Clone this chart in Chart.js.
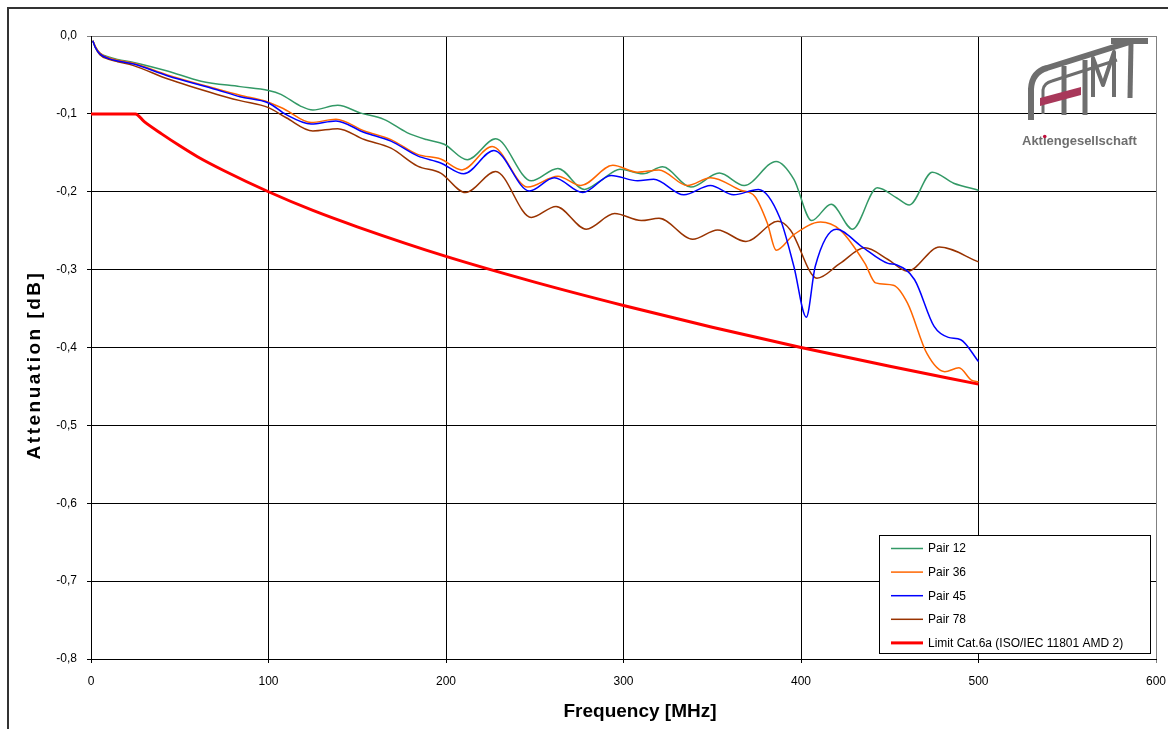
<!DOCTYPE html>
<html>
<head>
<meta charset="utf-8">
<title>Attenuation</title>
<script src="https://cdn.jsdelivr.net/npm/chart.js@4/dist/chart.umd.min.js"></script>
<style>
  html, body { margin: 0; padding: 0; background: #fff; }
  canvas { display: block; }
</style>
</head>
<body>
<canvas id="attChart" width="1168" height="729"></canvas>
<script>
// measured attenuation per pair, frequency in MHz, attenuation in dB
const pair12Freq = [1, 2.5, 5, 10, 15, 24, 43, 62, 84, 100, 107, 118, 125, 139, 152, 165, 178, 189, 199, 212, 228,
  248, 263, 278, 287, 298, 311, 322, 338, 354, 368, 386, 396, 406, 417, 429, 443, 454, 461, 474, 486, 500];
const pair12Att = [-0.006, -0.014, -0.022, -0.027, -0.030, -0.034, -0.045, -0.058, -0.065, -0.070, -0.075, -0.090,
  -0.095, -0.089, -0.099, -0.107, -0.124, -0.133, -0.139, -0.159, -0.132, -0.186, -0.170, -0.197, -0.186, -0.171,
  -0.177, -0.168, -0.194, -0.176, -0.192, -0.161, -0.184, -0.237, -0.216, -0.248, -0.195, -0.208, -0.217, -0.175,
  -0.189, -0.198];

const pair36Freq = [1, 2.5, 5, 10, 15, 24, 43, 71, 84, 100, 109, 124, 138, 154, 169, 184, 197, 209, 226, 246, 263,
  276, 294, 308, 320, 336, 349, 366, 374, 381, 386, 396, 411, 422, 436, 442, 452, 460, 471, 481, 489, 496, 500];
const pair36Att = [-0.006, -0.014, -0.022, -0.028, -0.031, -0.035, -0.050, -0.068, -0.076, -0.085, -0.094, -0.111,
  -0.107, -0.122, -0.133, -0.152, -0.158, -0.172, -0.142, -0.194, -0.180, -0.192, -0.166, -0.175, -0.172, -0.192,
  -0.182, -0.198, -0.206, -0.240, -0.275, -0.255, -0.239, -0.249, -0.292, -0.317, -0.320, -0.343, -0.408, -0.431,
  -0.426, -0.442, -0.444];

const pair45Freq = [1, 2.5, 5, 10, 15, 24, 43, 71, 84, 100, 110, 124, 138, 154, 169, 184, 197, 210, 227, 247, 261,
  277, 293, 308, 317, 334, 349, 362, 376, 388, 396, 403, 408, 420, 434, 449, 454, 464, 475, 483, 490, 500];
const pair45Att = [-0.006, -0.015, -0.023, -0.029, -0.032, -0.036, -0.051, -0.069, -0.078, -0.086, -0.101, -0.113,
  -0.109, -0.124, -0.135, -0.154, -0.163, -0.177, -0.147, -0.199, -0.182, -0.201, -0.179, -0.186, -0.184, -0.204,
  -0.192, -0.204, -0.197, -0.233, -0.296, -0.361, -0.296, -0.248, -0.270, -0.292, -0.294, -0.313, -0.373, -0.387,
  -0.390, -0.418];

const pair78Freq = [1, 2.5, 5, 10, 15, 24, 43, 71, 84, 100, 110, 125, 139, 154, 169, 184, 197, 211, 228, 248, 262,
  279, 295, 310, 320, 339, 353, 369, 387, 394, 409, 422, 436, 449, 460, 478, 500];
const pair78Att = [-0.006, -0.015, -0.024, -0.030, -0.033, -0.038, -0.055, -0.075, -0.083, -0.092, -0.105, -0.122,
  -0.119, -0.133, -0.144, -0.167, -0.176, -0.201, -0.174, -0.233, -0.219, -0.248, -0.228, -0.237, -0.234, -0.261,
  -0.249, -0.264, -0.238, -0.249, -0.311, -0.292, -0.272, -0.287, -0.302, -0.271, -0.290];

// Cat.6a limit line (ISO/IEC 11801 AMD 2)
const limitFreq = [0, 25, 30, 40, 50, 60, 75, 100, 125, 150, 200, 250, 300, 350, 400, 450, 500];
const limitAtt = [-0.100, -0.100, -0.110, -0.126, -0.141, -0.155, -0.173, -0.200, -0.224, -0.245, -0.283, -0.316,
  -0.346, -0.374, -0.400, -0.424, -0.447];

const seriesNames = ['Pair 12', 'Pair 36', 'Pair 45', 'Pair 78', 'Limit Cat.6a (ISO/IEC 11801 AMD 2)'];
const seriesColors = ['#339966', '#ff6600', '#0000ff', '#993300', '#ff0000'];

const freqTicks = [0, 100, 200, 300, 400, 500, 600];
const attTicks = [0, -0.1, -0.2, -0.3, -0.4, -0.5, -0.6, -0.7, -0.8];

const FONT = "'Liberation Sans', Arial, sans-serif";

function toPoints(xs, ys) {
  return xs.map((x, i) => ({ x: x, y: ys[i] }));
}

function line(label, color, pts, width, order) {
  return {
    label: label,
    data: pts,
    borderColor: color,
    backgroundColor: color,
    borderWidth: width,
    pointRadius: 0,
    fill: false,
    cubicInterpolationMode: 'monotone',
    order: order
  };
}

function drawLogo(ctx) {
  ctx.save();
  ctx.strokeStyle = '#6e6e6e';
  ctx.lineCap = 'butt';
  ctx.lineJoin = 'round';

  // G with the slanted top
  ctx.lineWidth = 6;
  ctx.beginPath();
  ctx.moveTo(1031, 120);
  ctx.lineTo(1031, 89);
  ctx.quadraticCurveTo(1032, 72, 1047, 68);
  ctx.lineTo(1133, 41);
  ctx.stroke();
  ctx.lineWidth = 3;
  ctx.beginPath();
  ctx.moveTo(1043, 114);
  ctx.lineTo(1043, 90);
  ctx.quadraticCurveTo(1044, 83, 1052, 81);
  ctx.lineTo(1117, 60);
  ctx.stroke();

  // H
  ctx.lineWidth = 5;
  ctx.beginPath();
  ctx.moveTo(1064, 66); ctx.lineTo(1064, 115);
  ctx.moveTo(1085, 60); ctx.lineTo(1085, 115);
  ctx.stroke();

  // M
  ctx.lineWidth = 4;
  ctx.beginPath();
  ctx.moveTo(1093, 97);
  ctx.lineTo(1093, 58);
  ctx.lineTo(1103, 85);
  ctx.lineTo(1114, 52);
  ctx.lineTo(1114, 97);
  ctx.stroke();

  // T
  ctx.lineWidth = 6;
  ctx.beginPath();
  ctx.moveTo(1111, 41); ctx.lineTo(1148, 41);
  ctx.stroke();
  ctx.lineWidth = 5;
  ctx.beginPath();
  ctx.moveTo(1131, 43); ctx.lineTo(1130, 98);
  ctx.stroke();

  // crimson bar
  ctx.fillStyle = '#a8385a';
  ctx.beginPath();
  ctx.moveTo(1040, 98);
  ctx.lineTo(1081, 87);
  ctx.lineTo(1081, 95);
  ctx.lineTo(1040, 106);
  ctx.closePath();
  ctx.fill();

  ctx.font = 'bold 13px ' + FONT;
  ctx.textAlign = 'left';
  ctx.textBaseline = 'alphabetic';
  ctx.fillStyle = '#6e6e6e';
  ctx.fillText('Aktiengesellschaft', 1022, 145);
  const iX = 1022 + ctx.measureText('Akt').width + ctx.measureText('i').width / 2;
  ctx.fillStyle = '#c0103c';
  ctx.beginPath();
  ctx.arc(iX, 136.5, 1.8, 0, Math.PI * 2);
  ctx.fill();
  ctx.restore();
}

// frame, legend box, axis titles and company logo
const decor = {
  id: 'decor',
  beforeDraw(chart) {
    const ctx = chart.ctx;
    ctx.save();
    ctx.fillStyle = '#fff';
    ctx.fillRect(0, 0, chart.width, chart.height);
    ctx.strokeStyle = '#333';
    ctx.lineWidth = 2;
    ctx.beginPath();
    ctx.moveTo(8, chart.height);
    ctx.lineTo(8, 8);
    ctx.lineTo(chart.width, 8);
    ctx.stroke();
    ctx.restore();
  },
  afterDraw(chart) {
    const ctx = chart.ctx;
    ctx.save();

    // legend
    ctx.fillStyle = '#fff';
    ctx.fillRect(879.5, 535.5, 271, 118);
    ctx.strokeStyle = '#000';
    ctx.lineWidth = 1;
    ctx.strokeRect(879.5, 535.5, 271, 118);
    ctx.font = '12px ' + FONT;
    ctx.textBaseline = 'middle';
    ctx.textAlign = 'left';
    chart.data.datasets.forEach((ds, i) => {
      const y = 548.5 + i * 23.6;
      ctx.strokeStyle = ds.borderColor;
      ctx.lineWidth = ds.borderWidth;
      ctx.beginPath();
      ctx.moveTo(891, y);
      ctx.lineTo(923, y);
      ctx.stroke();
      ctx.fillStyle = '#000';
      ctx.fillText(ds.label, 928, y + 0.5);
    });

    // axis titles
    ctx.fillStyle = '#000';
    ctx.font = 'bold 19px ' + FONT;
    ctx.textAlign = 'center';
    ctx.fillText('Frequency [MHz]', 640, 712);
    ctx.save();
    ctx.translate(35, 365);
    ctx.rotate(-Math.PI / 2);
    ctx.letterSpacing = '2.5px';
    ctx.fillText('Attenuation [dB]', 0, 0);
    ctx.restore();

    ctx.restore();
    drawLogo(ctx);
  }
};

new Chart(document.getElementById('attChart'), {
  type: 'line',
  data: {
    datasets: [
      line(seriesNames[0], seriesColors[0], toPoints(pair12Freq, pair12Att), 1.5, 3),
      line(seriesNames[1], seriesColors[1], toPoints(pair36Freq, pair36Att), 1.5, 2),
      line(seriesNames[2], seriesColors[2], toPoints(pair45Freq, pair45Att), 1.5, 1),
      line(seriesNames[3], seriesColors[3], toPoints(pair78Freq, pair78Att), 1.5, 4),
      line(seriesNames[4], seriesColors[4], toPoints(limitFreq, limitAtt), 3, 0)
    ]
  },
  options: {
    responsive: false,
    animation: false,
    layout: { padding: { left: 0, top: 36, right: 12, bottom: 0 } },
    plugins: {
      legend: { display: false },
      tooltip: { enabled: false }
    },
    scales: {
      x: {
        type: 'linear',
        min: 0,
        max: 600,
        afterBuildTicks: (s) => { s.ticks = freqTicks.map(v => ({ value: v })); },
        afterFit: (s) => { s.height = 70; s.paddingLeft = 0; s.paddingRight = 0; },
        grid: {
          color: (c) => (c.tick && c.tick.value === 600 ? '#808080' : '#000'),
          lineWidth: 1,
          tickLength: 4
        },
        border: { color: '#000', width: 1 },
        ticks: {
          color: '#000',
          font: { family: FONT, size: 12 },
          padding: 11,
          maxRotation: 0,
          callback: (v) => String(v)
        }
      },
      y: {
        type: 'linear',
        min: -0.8,
        max: 0,
        afterBuildTicks: (s) => { s.ticks = attTicks.map(v => ({ value: v })); },
        afterFit: (s) => { s.width = 91; s.paddingTop = 0; s.paddingBottom = 0; },
        grid: {
          color: (c) => (c.tick && c.tick.value === 0 ? '#808080' : '#000'),
          lineWidth: 1,
          tickLength: 4
        },
        border: { color: '#000', width: 1 },
        ticks: {
          color: '#000',
          font: { family: FONT, size: 12 },
          padding: 10,
          callback: (v) => v.toFixed(1).replace('.', ',')
        }
      }
    }
  },
  plugins: [decor]
});
</script>
</body>
</html>
